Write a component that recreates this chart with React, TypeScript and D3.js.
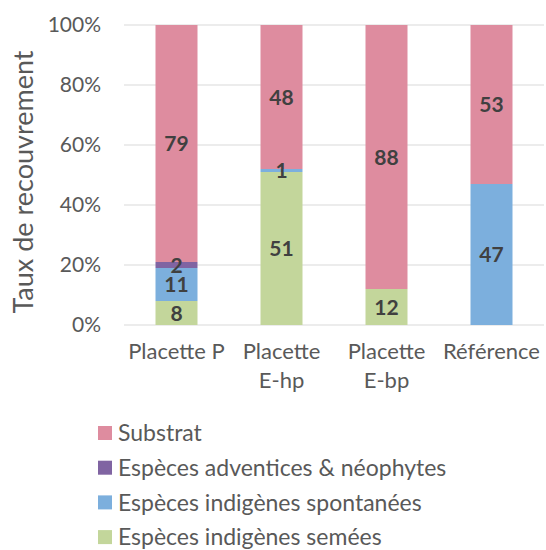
import { useEffect, useRef } from "react";
import * as d3 from "d3";

const categories = ["Placette P", "Placette E-hp", "Placette E-bp", "Référence"];
const categoryLines = [["Placette P"], ["Placette", "E-hp"], ["Placette", "E-bp"], ["Référence"]];
const seriesNames = [
  "Espèces indigènes semées",
  "Espèces indigènes spontanées",
  "Espèces adventices & néophytes",
  "Substrat",
];
const semees = [8, 51, 12, 0];
const spontanees = [11, 1, 0, 47];
const adventices = [2, 0, 0, 0];
const substrat = [79, 48, 88, 53];
const colors = ["#C3D69B", "#7CAFDD", "#8064A2", "#DE8C9F"];
const yTicks = [0, 20, 40, 60, 80, 100];

export default function App() {
  const svgRef = useRef<SVGSVGElement>(null);

  useEffect(() => {
    if (!svgRef.current) return;
    document.body.style.margin = "0";
    document.body.style.overflow = "hidden";
    const width = 546;
    const height = 550;
    const svg = d3.select(svgRef.current);
    svg.selectAll("*").remove();
    svg.attr("width", width).attr("height", height);

    const font = "Lato, 'Open Sans', sans-serif";
    const left = 124, right = 544, top = 25, bottom = 325;

    const x = d3.scaleBand<string>().domain(categories).range([left, right]).paddingInner(0.6).paddingOuter(0.3);
    const y = d3.scaleLinear().domain([0, 100]).range([bottom, top]);

    // gridlines
    svg.append("g")
      .selectAll("line")
      .data(yTicks)
      .enter()
      .append("line")
      .attr("x1", left)
      .attr("x2", right)
      .attr("y1", (d) => y(d))
      .attr("y2", (d) => y(d))
      .style("stroke", "#D9D9D9")
      .style("stroke-width", "1px");

    // tick labels
    svg.append("g")
      .selectAll("text")
      .data(yTicks)
      .enter()
      .append("text")
      .attr("x", 101)
      .attr("y", (d) => y(d))
      .attr("dy", "0.35em")
      .style("text-anchor", "end")
      .style("font-family", font)
      .style("font-size", "21px")
      .style("fill", "#595959")
      .text((d) => `${d}%`);

    // axis title
    svg.append("text")
      .attr("transform", `translate(33, ${182}) rotate(-90)`)
      .style("text-anchor", "middle")
      .style("font-family", font)
      .style("font-size", "27px")
      .style("fill", "#595959")
      .text("Taux de recouvrement");

    const rows = categories.map((c, i) => ({
      cat: c,
      [seriesNames[0]]: semees[i],
      [seriesNames[1]]: spontanees[i],
      [seriesNames[2]]: adventices[i],
      [seriesNames[3]]: substrat[i],
    }));
    const stack = d3.stack<any>().keys(seriesNames)(rows);

    stack.forEach((layer, si) => {
      svg.append("g")
        .selectAll("rect")
        .data(layer)
        .enter()
        .append("rect")
        .attr("x", (d: any) => x(d.data.cat)!)
        .attr("width", x.bandwidth())
        .attr("y", (d) => y(d[1]))
        .attr("height", (d) => y(d[0]) - y(d[1]))
        .style("fill", colors[si]);
    });

    stack.forEach((layer) => {
      svg.append("g")
        .selectAll("text")
        .data(layer.filter((d) => d[1] - d[0] > 0))
        .enter()
        .append("text")
        .attr("x", (d: any) => x(d.data.cat)! + x.bandwidth() / 2)
        .attr("y", (d) => y((d[0] + d[1]) / 2))
        .attr("dy", "0.36em")
        .style("text-anchor", "middle")
        .style("font-family", font)
        .style("font-size", "21px")
        .style("font-weight", "bold")
        .style("fill", "#404040")
        .text((d) => `${d[1] - d[0]}`);
    });

    // category labels
    categories.forEach((c, i) => {
      const t = svg.append("text")
        .attr("x", x(c)! + x.bandwidth() / 2)
        .attr("y", 359)
        .style("text-anchor", "middle")
        .style("font-family", font)
        .style("font-size", "22px")
        .style("fill", "#595959");
      categoryLines[i].forEach((line, li) => {
        t.append("tspan")
          .attr("x", x(c)! + x.bandwidth() / 2)
          .attr("dy", li === 0 ? 0 : 29)
          .text(line);
      });
    });

    // legend
    const legendOrder = [3, 2, 1, 0];
    const legend = svg.append("g")
      .selectAll("g")
      .data(legendOrder)
      .enter()
      .append("g")
      .attr("transform", (d, i) => `translate(98, ${433 + i * 34.7})`);
    legend.append("rect")
      .attr("x", 0)
      .attr("y", -7)
      .attr("width", 14)
      .attr("height", 14)
      .style("fill", (d) => colors[d]);
    legend.append("text")
      .attr("x", 20)
      .attr("dy", "0.36em")
      .style("font-family", font)
      .style("font-size", "23px")
      .style("fill", "#595959")
      .text((d) => seriesNames[d]);
  }, []);

  return <svg ref={svgRef} style={{ display: "block" }}></svg>;
}
